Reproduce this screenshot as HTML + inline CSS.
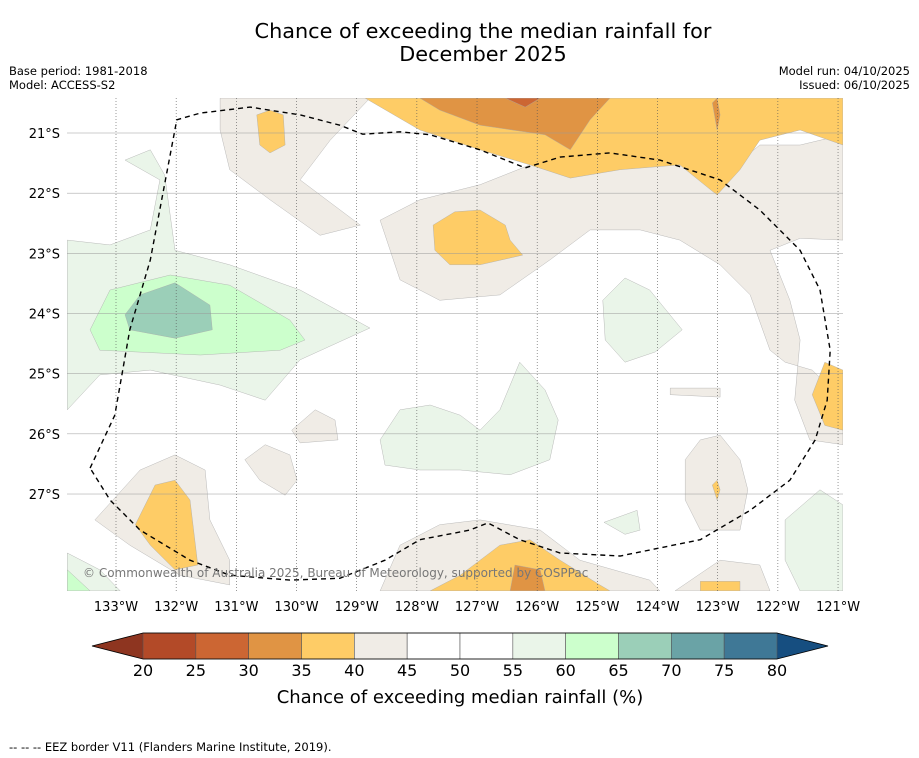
<!DOCTYPE html>
<html><head><meta charset="utf-8"><style>
body{margin:0;background:#fff;}
svg{display:block;font-family:"DejaVu Sans","Liberation Sans",sans-serif;}
</style></head><body>
<svg id="chart" width="919" height="758" viewBox="0 0 919 758">
<text x="483" y="38" font-size="20.8" text-anchor="middle">Chance of exceeding the median rainfall for</text>
<text x="483" y="61" font-size="20.8" text-anchor="middle">December 2025</text>
<text x="9" y="75" font-size="11.5">Base period: 1981-2018</text>
<text x="9" y="89" font-size="11.5">Model: ACCESS-S2</text>
<text x="910" y="75" font-size="11.5" text-anchor="end">Model run: 04/10/2025</text>
<text x="910" y="89" font-size="11.5" text-anchor="end">Issued: 06/10/2025</text>
<defs><clipPath id="mapclip"><rect x="67" y="98" width="776" height="493"/></clipPath></defs>
<g id="map" clip-path="url(#mapclip)"></g>
<g id="grid"></g>
<g id="ticks"></g>
<text x="83" y="577" font-size="12" fill="#777">© Commonwealth of Australia 2025, Bureau of Meteorology, supported by COSPPac</text>
<g id="cbar"></g>
<text x="460" y="703" font-size="18" text-anchor="middle">Chance of exceeding median rainfall (%)</text>
<text x="9" y="751" font-size="11.5">--  --  -- EEZ border V11 (Flanders Marine Institute, 2019).</text>
</svg>
<script>
const lonTicks=[133,132,131,130,129,128,127,126,125,124,123,122,121];
const latTicks=[21,22,23,24,25,26,27];
const cbLevels=[20,25,30,35,40,45,50,55,60,65,70,75,80];
const cbColors=["#b34a28","#cc6633","#e09444","#fecc66","#f0ece6","#ffffff","#ffffff","#eaf5e9","#ccffcc","#9bcfb8","#6aa3a6","#3f7896"];
const cbLow="#8e3520", cbHigh="#164e80";
const beigeRegions=[
 [[131.27,20.42],[128.78,20.42],[129.44,21.12],[129.94,21.78],[128.94,22.53],[129.61,22.70],[130.44,22.11],[131.11,21.61],[131.27,20.95]],
 [[128.61,22.45],[127.95,22.11],[126.95,21.86],[126.12,21.53],[124.62,21.45],[123.63,21.53],[123.01,21.78],[122.30,21.20],[121.63,21.20],[120.92,21.03],[120.92,22.78],[121.63,22.75],[122.13,22.95],[121.80,23.78],[121.63,24.44],[121.72,25.44],[121.47,26.10],[120.92,26.18],[120.92,25.44],[121.43,24.94],[121.88,24.81],[122.13,24.61],[122.46,23.69],[122.96,23.19],[123.63,22.78],[124.29,22.61],[125.12,22.61],[125.79,23.11],[126.62,23.69],[127.62,23.78],[128.28,23.44]],
 [[133.35,27.43],[132.60,26.60],[132.02,26.35],[131.52,26.60],[131.44,27.43],[131.11,28.10],[131.11,28.51],[131.94,28.35],[132.77,27.85]],
 [[130.86,26.43],[130.52,26.18],[130.11,26.35],[129.99,26.77],[130.19,27.02],[130.61,26.77]],
 [[130.08,25.94],[129.69,25.60],[129.36,25.77],[129.31,26.10],[129.94,26.15]],
 [[123.54,26.43],[123.29,26.10],[122.96,26.02],[122.63,26.43],[122.50,26.93],[122.63,27.60],[123.29,27.60],[123.54,27.10]],
 [[123.71,28.61],[122.96,28.10],[122.30,28.18],[122.13,28.61]],
 [[123.79,25.24],[122.96,25.24],[122.96,25.39],[123.79,25.35]],
 [[128.61,28.61],[128.28,27.85],[127.62,27.51],[126.95,27.43],[125.95,27.60],[125.29,28.10],[124.13,28.43],[123.96,28.61]]
];
const greenRegions=[
 [[133.81,22.78],[133.10,22.86],[132.43,22.61],[132.27,21.78],[132.85,21.45],[132.43,21.28],[132.19,21.70],[132.02,22.95],[131.11,23.19],[129.94,23.61],[128.78,24.24],[129.94,24.77],[130.52,25.44],[131.27,25.19],[132.43,24.94],[133.27,25.02],[133.81,25.60]],
 [[128.61,26.10],[128.28,25.60],[127.78,25.52],[127.28,25.69],[126.95,25.94],[126.62,25.60],[126.29,24.81],[125.87,25.27],[125.65,25.77],[125.79,26.43],[126.45,26.68],[127.28,26.60],[127.95,26.60],[128.53,26.52]],
 [[124.91,23.78],[124.54,23.41],[124.13,23.61],[123.59,24.27],[124.04,24.64],[124.54,24.81],[124.87,24.44]],
 [[124.89,27.47],[124.34,27.27],[124.29,27.60],[124.54,27.67]],
 [[121.88,27.43],[121.30,26.93],[120.92,27.18],[120.92,28.61],[121.63,28.61],[121.88,28.10]],
 [[133.81,27.98],[133.27,28.26],[132.93,28.61],[133.81,28.61]]
];
const brightGreenRegions=[
 [[133.43,24.27],[133.10,23.61],[132.10,23.36],[131.11,23.53],[130.11,24.11],[129.86,24.44],[130.27,24.61],[131.60,24.69],[133.27,24.61]],
 [[133.81,28.26],[133.43,28.61],[133.81,28.61]]
];
const tealRegions=[[[132.85,24.02],[132.60,23.69],[132.02,23.49],[131.44,23.86],[131.40,24.27],[132.02,24.41],[132.77,24.27]]];
const yellowRegions=[
 [[128.86,20.42],[127.95,20.95],[126.95,21.28],[126.12,21.53],[125.45,21.75],[124.62,21.61],[123.63,21.53],[123.01,22.03],[122.63,21.61],[122.30,21.12],[121.63,20.95],[120.92,21.20],[120.92,20.42]],
 [[130.66,20.70],[130.44,20.62],[130.22,20.70],[130.19,21.20],[130.44,21.33],[130.61,21.20]],
 [[127.73,22.53],[127.37,22.31],[126.95,22.28],[126.53,22.53],[126.45,22.78],[126.24,23.03],[126.95,23.19],[127.45,23.19],[127.70,22.95]],
 [[132.68,27.51],[132.35,26.85],[132.02,26.77],[131.77,27.10],[131.64,28.18],[132.02,28.26],[132.43,27.85]],
 [[127.78,28.61],[127.28,28.35],[126.62,27.85],[126.12,27.76],[125.62,28.10],[124.96,28.51],[124.79,28.61]],
 [[121.43,25.35],[121.22,24.81],[120.92,24.94],[120.92,25.94],[121.22,25.86]],
 [[123.09,26.85],[123.01,26.77],[122.96,26.93],[123.01,27.10]],
 [[123.29,28.45],[122.63,28.45],[122.63,28.61],[123.29,28.61]]
];
const orangeRegions=[
 [[127.95,20.42],[124.79,20.42],[125.12,20.78],[125.45,21.28],[125.87,21.03],[126.95,20.87],[127.62,20.62]],
 [[126.37,28.18],[125.95,28.26],[125.87,28.61],[126.45,28.61]],
 [[123.09,20.50],[123.01,20.42],[122.96,20.70],[123.01,20.95]]
];
const darkRegions=[[[126.53,20.42],[125.95,20.42],[126.20,20.57]]];
const eezLine=[[133.43,26.57],[133.02,25.69],[132.77,24.27],[132.43,23.11],[131.99,20.78],[131.60,20.67],[130.77,20.57],[129.94,20.70],[129.28,20.87],[128.90,21.02],[128.28,20.98],[127.78,21.03],[126.95,21.28],[126.20,21.58],[125.62,21.40],[124.79,21.33],[123.96,21.45],[122.96,21.78],[122.30,22.28],[121.63,22.95],[121.30,23.61],[121.13,24.61],[121.18,25.44],[121.38,26.10],[121.80,26.77],[122.46,27.27],[123.29,27.76],[124.62,28.03],[125.62,27.98],[126.29,27.76],[126.82,27.48],[127.12,27.60],[127.95,27.76],[128.53,28.10],[129.28,28.40],[130.11,28.43],[131.11,28.35],[131.77,28.10],[132.60,27.60],[133.10,27.10],[133.43,26.57]];

const NS="http://www.w3.org/2000/svg";
const PX=60.17;
const xs=w=>116+(133-w)*PX;
const ys=s=>133+(s-21)*PX;
function mk(tag,attrs,parent){const e=document.createElementNS(NS,tag);for(const k in attrs)e.setAttribute(k,attrs[k]);parent.appendChild(e);return e;}
const map=document.getElementById('map');
mk('rect',{x:67,y:98,width:776,height:493,fill:'#fff'},map);
function poly(pts,fill,name){const p=mk('polygon',{points:pts.map(q=>xs(q[0]).toFixed(1)+','+ys(q[1]).toFixed(1)).join(' '),fill:fill,stroke:'#aaa','stroke-width':0.4},map);

}
beigeRegions.forEach(r=>poly(r,cbColors[4],'region-40-45'));
greenRegions.forEach(r=>poly(r,cbColors[7],'region-55-60'));
brightGreenRegions.forEach(r=>poly(r,cbColors[8],'region-60-65'));
tealRegions.forEach(r=>poly(r,cbColors[9],'region-65-70'));
yellowRegions.forEach(r=>poly(r,cbColors[3],'region-35-40'));
orangeRegions.forEach(r=>poly(r,cbColors[2],'region-30-35'));
darkRegions.forEach(r=>poly(r,cbColors[1],'region-25-30'));
const grid=document.getElementById('grid'),ticks=document.getElementById('ticks');
lonTicks.forEach(w=>{const x=xs(w);
 mk('line',{x1:x,y1:98,x2:x,y2:591,stroke:'#555','stroke-width':0.6,'stroke-dasharray':'1,2'},grid);
 const t=mk('text',{x:x,y:611,'font-size':13,'text-anchor':'middle'},ticks);t.textContent=w+'°W';
 
 });
latTicks.forEach(s=>{const y=ys(s);
 mk('line',{x1:67,y1:y,x2:843,y2:y,stroke:'#999','stroke-width':0.5},grid);
 const t=mk('text',{x:60,y:y+5,'font-size':13,'text-anchor':'end'},ticks);t.textContent=s+'°S';
 
 });
const eez=mk('polyline',{points:eezLine.map(q=>xs(q[0]).toFixed(1)+','+ys(q[1]).toFixed(1)).join(' '),fill:'none',stroke:'#000','stroke-width':1.4,'stroke-dasharray':'5,4'},grid);


const cb=document.getElementById('cbar');
const cx=v=>143+(v-20)*(634/60);
mk('polygon',{points:`92,646 ${cx(20)},633 ${cx(20)},659`,fill:cbLow},cb);
mk('polygon',{points:`828,646 ${cx(80)},633 ${cx(80)},659`,fill:cbHigh},cb);
cbColors.forEach((c,i)=>{const r=mk('rect',{x:cx(cbLevels[i]),y:633,width:cx(cbLevels[i+1])-cx(cbLevels[i]),height:26,fill:c,stroke:'#555','stroke-width':0.6},cb);
 
 });
mk('polygon',{points:`92,646 ${cx(20)},633 ${cx(80)},633 828,646 ${cx(80)},659 ${cx(20)},659`,fill:'none',stroke:'#000','stroke-width':0.8},cb);
cbLevels.forEach(v=>{const t=mk('text',{x:cx(v),y:676,'font-size':16,'text-anchor':'middle'},cb);t.textContent=v;
 
 });
</script>
</body></html>
